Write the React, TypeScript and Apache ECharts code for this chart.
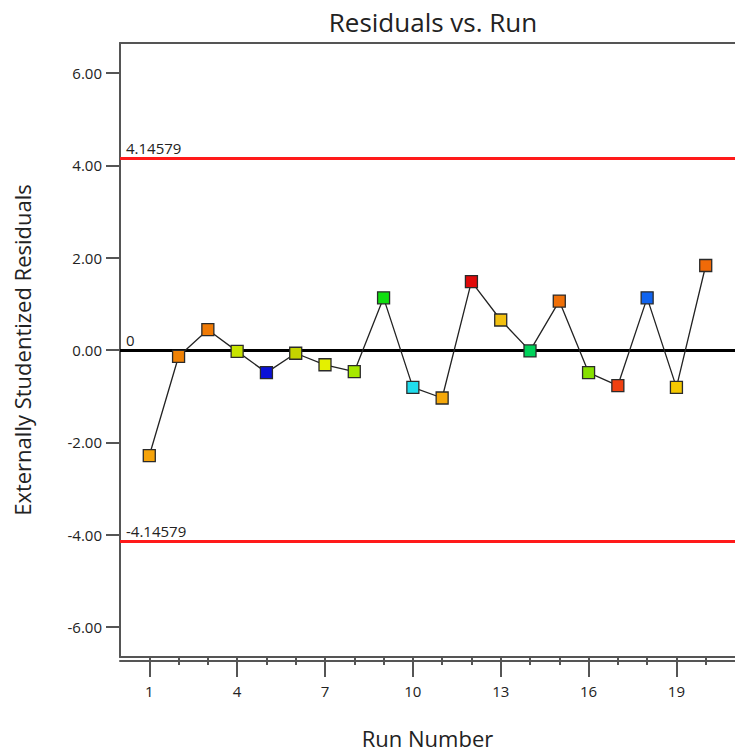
import React, { useEffect, useRef } from "react";
import * as echarts from "echarts";

// Run order and externally studentized residual per run
const runs: number[] = [1, 2, 3, 4, 5, 6, 7, 8, 9, 10, 11, 12, 13, 14, 15, 16, 17, 18, 19, 20];
const residuals: number[] = [
  -2.29, -0.14, 0.44, -0.03, -0.49, -0.07, -0.32, -0.47, 1.13, -0.81,
  -1.04, 1.48, 0.65, -0.02, 1.06, -0.49, -0.77, 1.13, -0.81, 1.83,
];
// Marker fill per run (colour-coded by response)
const pointColors: string[] = [
  "#f5a30a", "#f08205", "#f07a05", "#c8e400", "#0a10d8", "#c4d400", "#e4f000", "#a6e800", "#10e010", "#20dcec",
  "#f5a80a", "#e00a0a", "#f2c010", "#00d25a", "#f07008", "#86e000", "#f04010", "#1064f0", "#f5c800", "#f06a08",
];
// Outlier limits and centre line
const limitValue = 4.14579;
const yTickValues: number[] = [-6, -4, -2, 0, 2, 4, 6];
const xMajorTicks: number[] = [1, 4, 7, 10, 13, 16, 19];

const FONT = "'Open Sans', 'Noto Sans', sans-serif";

export default function App() {
  const ref = useRef<HTMLDivElement>(null);

  useEffect(() => {
    if (!ref.current) return;
    const chart = echarts.init(ref.current, null, { renderer: "svg" });
    const axisColor = "#555555";
    const gridBox = { left: 120, right: 0, top: 43, bottom: 93 };

    chart.setOption({
      animation: false,
      backgroundColor: "#ffffff",
      title: {
        text: "Residuals vs. Run",
        left: 428,
        top: 4,
        textAlign: "center",
        textStyle: { fontFamily: FONT, fontSize: 26, fontWeight: "normal", color: "#222" },
      },
      // second grid overlays the first and only carries the long run ticks
      grid: [gridBox, gridBox],
      xAxis: [
        {
          type: "value",
          gridIndex: 0,
          min: 0,
          max: 21,
          position: "bottom",
          name: "Run Number",
          nameLocation: "middle",
          nameGap: 70,
          nameTextStyle: { fontFamily: FONT, fontSize: 22, color: "#222" },
          axisLine: { show: true, onZero: false, lineStyle: { color: axisColor, width: 2 } },
          axisTick: { show: true, length: 8, customValues: runs, lineStyle: { color: axisColor, width: 2 } },
          axisLabel: {
            customValues: xMajorTicks,
            margin: 26,
            fontFamily: FONT,
            fontSize: 15,
            color: "#222",
          },
          splitLine: { show: false },
        },
        {
          type: "value",
          gridIndex: 0,
          min: 0,
          max: 21,
          position: "top",
          axisLine: { show: true, onZero: false, lineStyle: { color: axisColor, width: 2 } },
          axisTick: { show: false },
          axisLabel: { show: false },
          splitLine: { show: false },
        },
        {
          type: "value",
          gridIndex: 1,
          min: 0,
          max: 21,
          position: "bottom",
          axisLine: { show: true, onZero: false, lineStyle: { color: axisColor, width: 2 } },
          axisTick: { show: true, length: 16, customValues: xMajorTicks, lineStyle: { color: axisColor, width: 2 } },
          axisLabel: { show: false },
          splitLine: { show: false },
        },
      ],
      yAxis: [
        {
          type: "value",
          gridIndex: 0,
          min: -6.65,
          max: 6.65,
          name: "Externally Studentized Residuals",
          nameLocation: "middle",
          nameGap: 87,
          nameTextStyle: { fontFamily: FONT, fontSize: 22, color: "#222" },
          axisLine: { show: true, onZero: false, lineStyle: { color: axisColor, width: 2 } },
          axisTick: { show: true, length: 14, customValues: yTickValues, lineStyle: { color: axisColor, width: 2 } },
          axisLabel: {
            customValues: yTickValues,
            margin: 18,
            fontFamily: FONT,
            fontSize: 15,
            color: "#222",
            formatter: (v: number) => v.toFixed(2),
          },
          splitLine: { show: false },
        },
        {
          type: "value",
          gridIndex: 1,
          min: -6.65,
          max: 6.65,
          show: false,
        },
      ],
      series: [
        {
          type: "line",
          xAxisIndex: 0,
          yAxisIndex: 0,
          data: [],
          z: 1,
          markLine: {
            silent: true,
            symbol: "none",
            animation: false,
            data: [
              {
                yAxis: limitValue,
                lineStyle: { color: "#ff1a1a", width: 3, type: "solid" },
                label: { formatter: String(limitValue) },
              },
              {
                yAxis: 0,
                lineStyle: { color: "#000000", width: 3, type: "solid" },
                label: { formatter: "0" },
              },
              {
                yAxis: -limitValue,
                lineStyle: { color: "#ff1a1a", width: 3, type: "solid" },
                label: { formatter: String(-limitValue) },
              },
            ],
            label: {
              show: true,
              position: "insideStartTop",
              distance: [6, 3],
              fontFamily: FONT,
              fontSize: 15,
              color: "#222",
            },
          },
        },
        {
          type: "line",
          xAxisIndex: 0,
          yAxisIndex: 0,
          z: 5,
          symbol: "rect",
          symbolSize: 12,
          lineStyle: { color: "#222222", width: 1.3 },
          data: runs.map((r, i) => ({
            value: [r, residuals[i]],
            itemStyle: { color: pointColors[i], borderColor: "#2a2a2a", borderWidth: 1.3 },
          })),
        },
      ],
    });

    return () => chart.dispose();
  }, []);

  return (
    <div
      ref={ref}
      style={{ position: "fixed", left: 0, top: 0, width: 735, height: 754 }}
    />
  );
}
